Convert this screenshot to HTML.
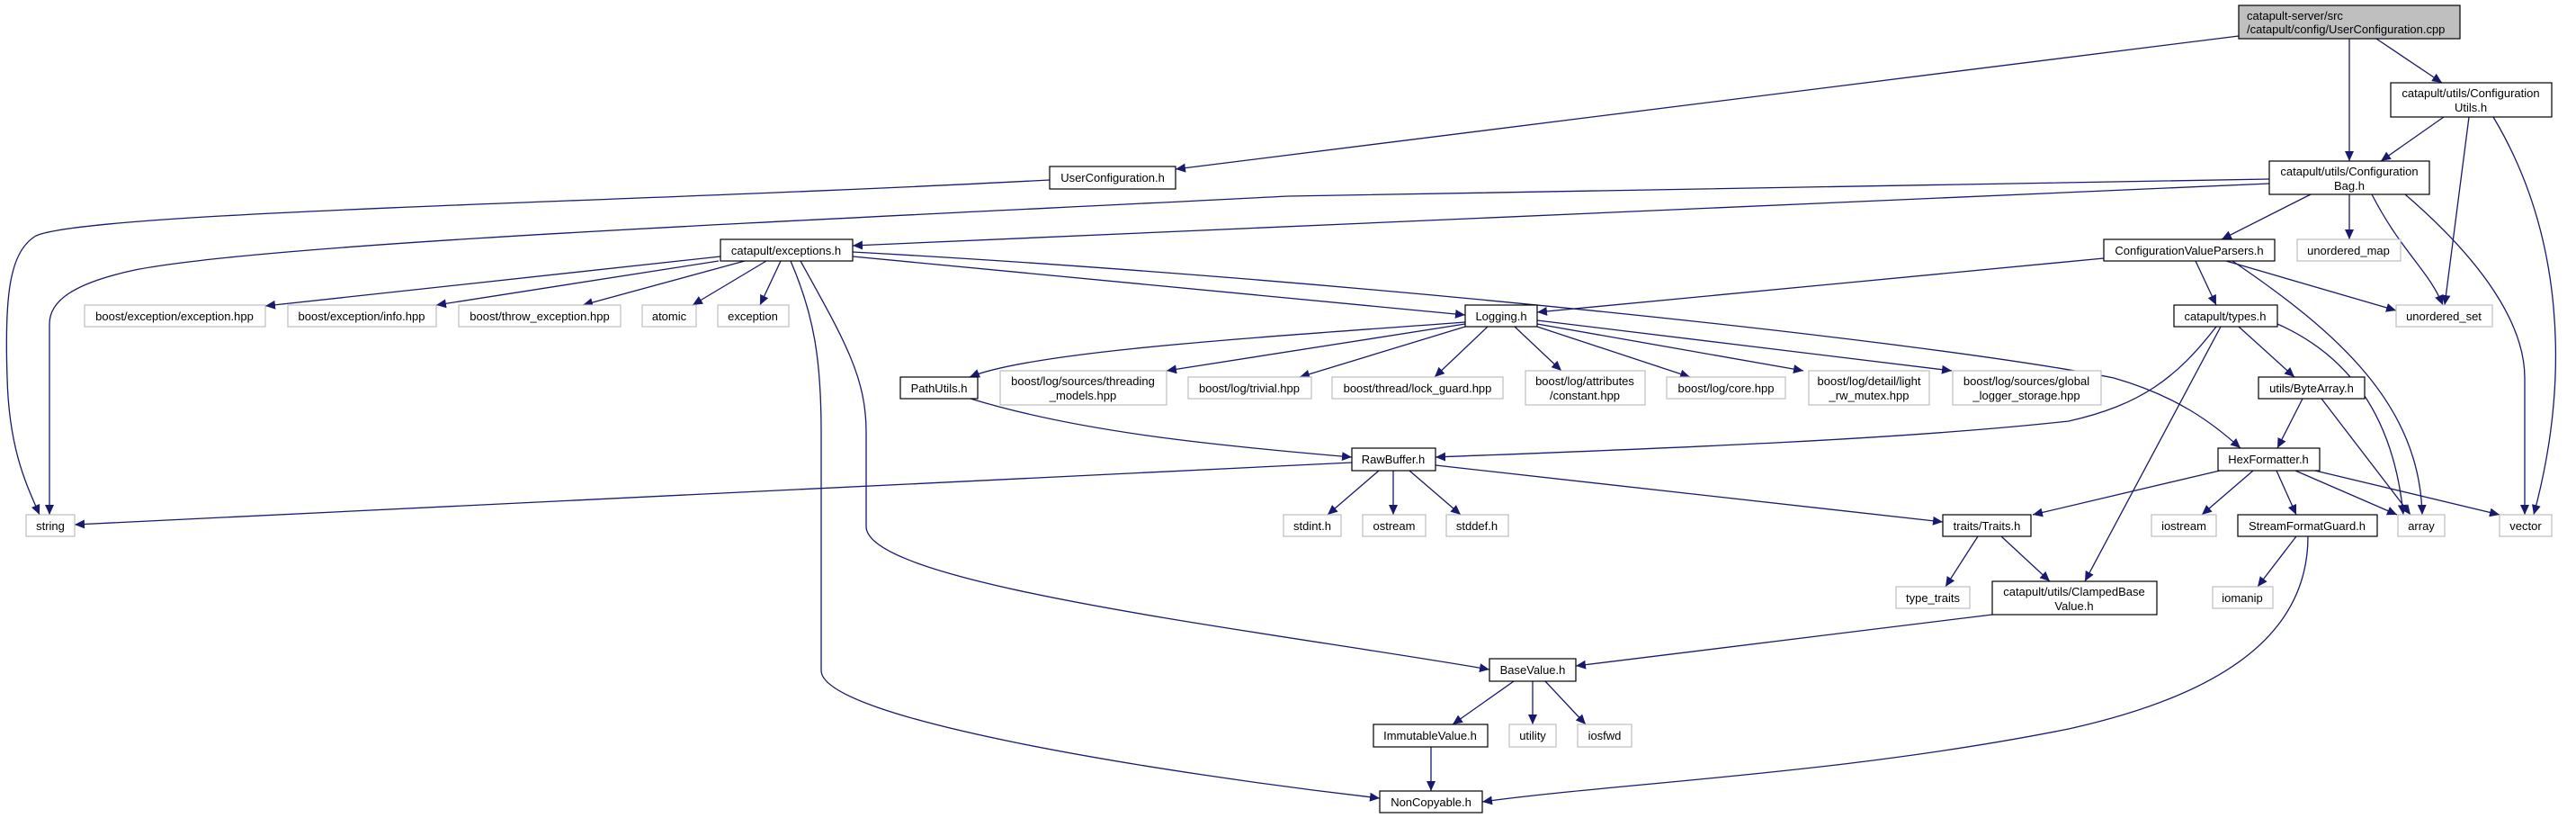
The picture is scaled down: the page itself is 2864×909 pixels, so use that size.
<!DOCTYPE html>
<html><head><meta charset="utf-8"><style>
html,body{margin:0;padding:0;background:#fff;}
svg{display:block;}
text{font-family:"Liberation Sans",Arial,sans-serif;font-size:13px;fill:#000;text-anchor:middle;}
.n{fill:#fff;stroke:#000;stroke-width:1.2;}
.g{fill:#fff;stroke:#bfbfbf;stroke-width:1.2;}
.e{fill:none;stroke:#191970;stroke-width:1.3;}
</style></head><body>
<svg width="2864" height="909" viewBox="0 0 2864 909" xmlns="http://www.w3.org/2000/svg">
<defs>
<marker id="a" markerUnits="userSpaceOnUse" markerWidth="12" markerHeight="10" refX="11" refY="5" orient="auto">
<path d="M0,0 L11,5 L0,10 Z" fill="#191970"/>
</marker>
</defs>
<g marker-end="url(#a)">
<path class="e" d="M2489,40 L1307,188"/>
<path class="e" d="M2612,43 L2612,179"/>
<path class="e" d="M2642,43 L2715,92"/>
<path class="e" d="M2717,130 L2647,179"/>
<path class="e" d="M2745,130 L2718,339"/>
<path class="e" d="M2772,130 C2850,260 2858,420 2817,572"/>
<path class="e" d="M1167,200 C700,225 100,235 40,262 C10,280 5,330 8,420 C10,500 30,540 44,572"/>
<path class="e" d="M2523,199 L1432,218 C900,245 300,270 150,300 C80,315 55,335 55,360 L55,572"/>
<path class="e" d="M2523,204 L948,273"/>
<path class="e" d="M2569,216 L2470,266"/>
<path class="e" d="M2612,216 L2612,266"/>
<path class="e" d="M2637,216 C2670,280 2700,300 2716,339"/>
<path class="e" d="M2674,216 C2760,290 2807,360 2807,420 L2807,572"/>
<path class="e" d="M2339,287 L1709,347"/>
<path class="e" d="M2475,290 L2664,345"/>
<path class="e" d="M2441,290 L2464,339"/>
<path class="e" d="M2482,290 C2600,370 2690,450 2693,572"/>
<path class="e" d="M2532,360 C2600,390 2660,450 2672,572"/>
<path class="e" d="M801,285 L295,340"/>
<path class="e" d="M799,290 L485,339"/>
<path class="e" d="M828,290 L648,339"/>
<path class="e" d="M852,290 L770,339"/>
<path class="e" d="M868,290 L845,339"/>
<path class="e" d="M879,290 C905,350 913,400 913,480 L913,745 C913,800 1300,860 1534,887"/>
<path class="e" d="M890,290 C940,380 963,420 963,480 L963,585 C963,650 1400,700 1656,744"/>
<path class="e" d="M948,285 L1629,350"/>
<path class="e" d="M948,280 C1500,310 2150,380 2350,420 C2420,440 2460,470 2491,498"/>
<path class="e" d="M1629,358 C1400,375 1150,390 1078,419"/>
<path class="e" d="M1629,360 L1297,412"/>
<path class="e" d="M1629,363 L1445,419"/>
<path class="e" d="M1654,363 L1595,419"/>
<path class="e" d="M1684,363 L1736,412"/>
<path class="e" d="M1709,363 L1879,419"/>
<path class="e" d="M1709,360 L2005,412"/>
<path class="e" d="M1709,356 L2170,412"/>
<path class="e" d="M2464,363 C2420,420 2380,450 2300,468 C2100,490 1800,500 1596,508"/>
<path class="e" d="M2469,363 L2318,646"/>
<path class="e" d="M2489,363 L2551,419"/>
<path class="e" d="M1079,443 C1200,480 1350,495 1503,508"/>
<path class="e" d="M1503,514 L83,583"/>
<path class="e" d="M1533,523 L1476,572"/>
<path class="e" d="M1549,523 L1549,572"/>
<path class="e" d="M1567,523 L1624,572"/>
<path class="e" d="M1596,517 L2160,580"/>
<path class="e" d="M2560,443 L2532,498"/>
<path class="e" d="M2581,443 L2680,572"/>
<path class="e" d="M2468,523 L2260,572"/>
<path class="e" d="M2505,523 L2448,572"/>
<path class="e" d="M2531,523 L2553,572"/>
<path class="e" d="M2552,523 L2665,572"/>
<path class="e" d="M2574,523 L2779,572"/>
<path class="e" d="M2199,596 L2163,652"/>
<path class="e" d="M2225,596 L2279,646"/>
<path class="e" d="M2553,596 L2510,652"/>
<path class="e" d="M2566,596 C2566,700 2480,770 2300,810 C2050,860 1800,870 1648,891"/>
<path class="e" d="M2215,683 L1752,740"/>
<path class="e" d="M1683,757 L1615,805"/>
<path class="e" d="M1704,757 L1704,805"/>
<path class="e" d="M1718,757 L1763,805"/>
<path class="e" d="M1591,830 L1591,879"/>
</g>
<rect x="2489" y="6" width="246" height="37" fill="#bfbfbf" stroke="#000" stroke-width="1.2"/>
<text x="2498" y="22" style="text-anchor:start">catapult-server/src</text>
<text x="2498" y="37" style="text-anchor:start">/catapult/config/UserConfiguration.cpp</text>
<rect class="n" x="2658" y="92" width="179" height="38"/><text x="2747" y="108">catapult/utils/Configuration</text><text x="2747" y="124">Utils.h</text>
<rect class="n" x="1167" y="185" width="140" height="25"/><text x="1237" y="202">UserConfiguration.h</text>
<rect class="n" x="2523" y="179" width="178" height="37"/><text x="2612" y="195">catapult/utils/Configuration</text><text x="2612" y="211">Bag.h</text>
<rect class="n" x="801" y="266" width="147" height="24"/><text x="874" y="283">catapult/exceptions.h</text>
<rect class="n" x="2339" y="266" width="190" height="24"/><text x="2434" y="283">ConfigurationValueParsers.h</text>
<rect class="g" x="2554" y="266" width="115" height="24"/><text x="2611" y="283">unordered_map</text>
<rect class="g" x="94" y="339" width="201" height="24"/><text x="194" y="356">boost/exception/exception.hpp</text>
<rect class="g" x="320" y="339" width="165" height="24"/><text x="402" y="356">boost/exception/info.hpp</text>
<rect class="g" x="510" y="339" width="180" height="24"/><text x="600" y="356">boost/throw_exception.hpp</text>
<rect class="g" x="714" y="339" width="60" height="24"/><text x="744" y="356">atomic</text>
<rect class="g" x="798" y="339" width="79" height="24"/><text x="837" y="356">exception</text>
<rect class="n" x="1629" y="339" width="80" height="24"/><text x="1669" y="356">Logging.h</text>
<rect class="n" x="2417" y="339" width="115" height="24"/><text x="2474" y="356">catapult/types.h</text>
<rect class="g" x="2664" y="339" width="107" height="24"/><text x="2717" y="356">unordered_set</text>
<rect class="n" x="1001" y="419" width="86" height="24"/><text x="1044" y="436">PathUtils.h</text>
<rect class="g" x="1112" y="412" width="185" height="38"/><text x="1204" y="428">boost/log/sources/threading</text><text x="1204" y="444">_models.hpp</text>
<rect class="g" x="1321" y="419" width="137" height="24"/><text x="1389" y="436">boost/log/trivial.hpp</text>
<rect class="g" x="1481" y="419" width="190" height="24"/><text x="1576" y="436">boost/thread/lock_guard.hpp</text>
<rect class="g" x="1696" y="412" width="133" height="38"/><text x="1762" y="428">boost/log/attributes</text><text x="1762" y="444">/constant.hpp</text>
<rect class="g" x="1853" y="419" width="132" height="24"/><text x="1919" y="436">boost/log/core.hpp</text>
<rect class="g" x="2011" y="412" width="134" height="38"/><text x="2078" y="428">boost/log/detail/light</text><text x="2078" y="444">_rw_mutex.hpp</text>
<rect class="g" x="2171" y="412" width="165" height="38"/><text x="2253" y="428">boost/log/sources/global</text><text x="2253" y="444">_logger_storage.hpp</text>
<rect class="n" x="2511" y="419" width="118" height="24"/><text x="2570" y="436">utils/ByteArray.h</text>
<rect class="n" x="1503" y="498" width="93" height="25"/><text x="1549" y="515">RawBuffer.h</text>
<rect class="n" x="2466" y="498" width="113" height="25"/><text x="2522" y="515">HexFormatter.h</text>
<rect class="g" x="29" y="572" width="54" height="24"/><text x="56" y="589">string</text>
<rect class="g" x="1427" y="572" width="64" height="24"/><text x="1459" y="589">stdint.h</text>
<rect class="g" x="1515" y="572" width="70" height="24"/><text x="1550" y="589">ostream</text>
<rect class="g" x="1608" y="572" width="69" height="24"/><text x="1642" y="589">stddef.h</text>
<rect class="n" x="2160" y="572" width="98" height="24"/><text x="2209" y="589">traits/Traits.h</text>
<rect class="g" x="2392" y="572" width="72" height="24"/><text x="2428" y="589">iostream</text>
<rect class="n" x="2488" y="572" width="155" height="24"/><text x="2565" y="589">StreamFormatGuard.h</text>
<rect class="g" x="2666" y="572" width="52" height="24"/><text x="2692" y="589">array</text>
<rect class="g" x="2779" y="572" width="58" height="24"/><text x="2808" y="589">vector</text>
<rect class="g" x="2108" y="652" width="82" height="24"/><text x="2149" y="669">type_traits</text>
<rect class="n" x="2215" y="646" width="183" height="37"/><text x="2306" y="662">catapult/utils/ClampedBase</text><text x="2306" y="678">Value.h</text>
<rect class="g" x="2460" y="652" width="67" height="24"/><text x="2493" y="669">iomanip</text>
<rect class="n" x="1656" y="732" width="96" height="25"/><text x="1704" y="749">BaseValue.h</text>
<rect class="n" x="1527" y="805" width="127" height="25"/><text x="1590" y="822">ImmutableValue.h</text>
<rect class="g" x="1678" y="805" width="52" height="25"/><text x="1704" y="822">utility</text>
<rect class="g" x="1754" y="805" width="60" height="25"/><text x="1784" y="822">iosfwd</text>
<rect class="n" x="1534" y="879" width="114" height="24"/><text x="1591" y="896">NonCopyable.h</text>
</svg>
</body></html>
